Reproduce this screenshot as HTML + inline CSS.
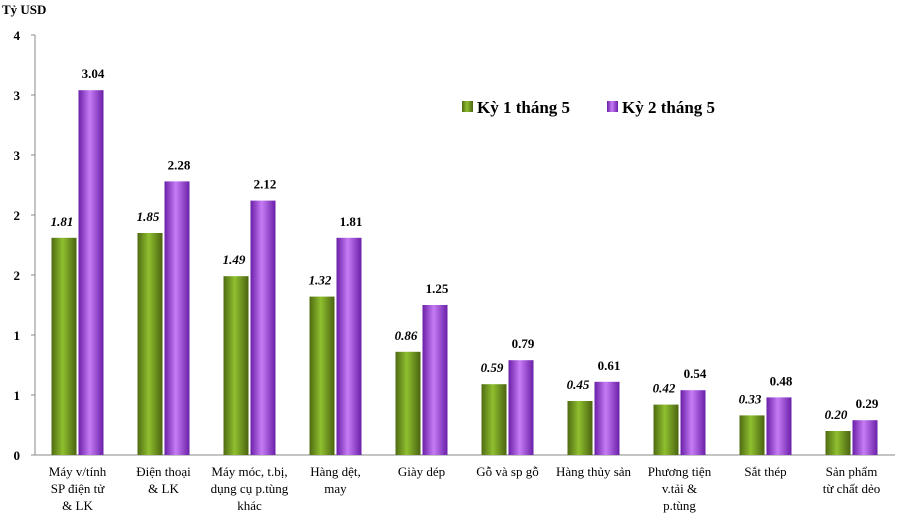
<!DOCTYPE html>
<html><head><meta charset="utf-8"><style>
body{margin:0;background:#fff;font-family:"Liberation Serif",serif;}
</style></head><body>
<svg id="c" width="900" height="519" xmlns="http://www.w3.org/2000/svg">
<defs>
<linearGradient id="gg" x1="0" x2="1"><stop offset="0" stop-color="#4f6b12"/><stop offset="0.45" stop-color="#8fbf2f"/><stop offset="1" stop-color="#4a6410"/></linearGradient>
<linearGradient id="pg" x1="0" x2="1"><stop offset="0" stop-color="#6a1fa8"/><stop offset="0.45" stop-color="#c77cf5"/><stop offset="1" stop-color="#6a1fa8"/></linearGradient>
</defs>
</svg>
<script>
const categories=[["Máy v/tính","SP điện tử","& LK"],["Điện thoại","& LK"],["Máy móc, t.bị,","dụng cụ p.tùng","khác"],["Hàng dệt,","may"],["Giày dép"],["Gỗ và sp gỗ"],["Hàng thủy sản"],["Phương tiện","v.tải &","p.tùng"],["Sắt thép"],["Sản phẩm","từ chất dẻo"]];
const series1=[1.81,1.85,1.49,1.32,0.86,0.59,0.45,0.42,0.33,0.20];
const series2=[3.04,2.28,2.12,1.81,1.25,0.79,0.61,0.54,0.48,0.29];
const tickValues=[0,0.5,1,1.5,2,2.5,3,3.5];
const tickLabels=["0","1","1","2","2","3","3","4"];
const svg=document.getElementById('c');const NS="http://www.w3.org/2000/svg";
function el(t,a,txt){const e=document.createElementNS(NS,t);for(const k in a)e.setAttribute(k,a[k]);if(txt!==undefined)e.textContent=txt;svg.appendChild(e);return e;}
const y0=455,pxPer=120,x0=35,catW=86;
const y=v=>y0-v*pxPer;
const cx=i=>x0+catW*(i+0.5)-0.5;
let e=el('line',{x1:x0,y1:y(3.5),x2:x0,y2:y0,stroke:'#888'});

e=el('line',{x1:x0,y1:y0,x2:895,y2:y0,stroke:'#888'});

tickValues.forEach((v,i)=>{
 el('line',{x1:x0-4,y1:y(v),x2:x0,y2:y(v),stroke:'#888'});
 const t=el('text',{x:20,y:y(v)+5,'text-anchor':'end','font-size':13,'font-weight':'bold'},tickLabels[i]);
 
});
e=el('text',{x:2,y:14,'font-size':13,'font-weight':'bold'},'Tỷ USD');

const bw=25;
categories.forEach((c,i)=>{
 const c0=cx(i);
 let r=el('rect',{x:c0-bw-1,y:y(series1[i]),width:bw,height:series1[i]*pxPer,fill:'url(#gg)'});
 
 r=el('rect',{x:c0+1,y:y(series2[i]),width:bw,height:series2[i]*pxPer,fill:'url(#pg)'});
 
 let t=el('text',{x:c0-bw/2-3,y:y(series1[i])-12,'text-anchor':'middle','font-size':13,'font-weight':'bold','font-style':'italic'},series1[i].toFixed(2));
 
 t=el('text',{x:c0+bw/2+3,y:y(series2[i])-12,'text-anchor':'middle','font-size':13,'font-weight':'bold'},series2[i].toFixed(2));
 
 c.forEach((ln,j)=>{
  const l=el('text',{x:c0,y:476+j*17,'text-anchor':'middle','font-size':13},ln);
  
 });
});
let g=el('rect',{x:462,y:101,width:11,height:11,fill:'url(#gg)'});

g=el('text',{x:477,y:113,'font-size':17,'font-weight':'bold'},'Kỳ 1 tháng 5');

g=el('rect',{x:607,y:101,width:11,height:11,fill:'url(#pg)'});

g=el('text',{x:622,y:113,'font-size':17,'font-weight':'bold'},'Kỳ 2 tháng 5');

</script>
</body></html>
